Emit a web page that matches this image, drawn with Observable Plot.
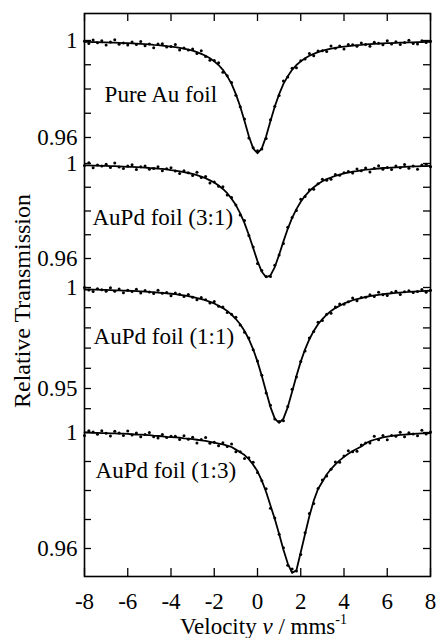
<!DOCTYPE html>
<html><head><meta charset="utf-8">
<script src="https://cdn.jsdelivr.net/npm/d3@7"></script>
<script src="https://cdn.jsdelivr.net/npm/@observablehq/plot@0.6"></script>
<style>html,body{margin:0;padding:0;background:#fff;} svg{display:block;} svg text{font-family:"Liberation Serif","DejaVu Serif",serif !important;}</style>
</head><body><div id="chart"></div>
<script>
// ---------- DATA ----------
const velocity = [-8,-7.8,-7.6,-7.4,-7.2,-7,-6.8,-6.6,-6.4,-6.2,-6,-5.8,-5.6,-5.4,-5.2,-5,-4.8,-4.6,-4.4,-4.2,-4,-3.8,-3.6,-3.4,-3.2,-3,-2.8,-2.6,-2.4,-2.2,-2,-1.8,-1.6,-1.4,-1.2,-1,-0.8,-0.6,-0.4,-0.2,0,0.2,0.4,0.6,0.8,1,1.2,1.4,1.6,1.8,2,2.2,2.4,2.6,2.8,3,3.2,3.4,3.6,3.8,4,4.2,4.4,4.6,4.8,5,5.2,5.4,5.6,5.8,6,6.2,6.4,6.6,6.8,7,7.2,7.4,7.6,7.8,8];

const sampleNames = ["Pure Au foil", "AuPd foil (3:1)", "AuPd foil (1:1)", "AuPd foil (1:3)"];

// measured transmission (dots)
const pointsAu = [0.9998,0.9988,1.0002,0.9991,0.9999,0.9981,0.9994,1.0003,0.9985,0.9990,
0.9981,0.9994,0.9984,0.9996,0.9978,0.9986,0.9970,0.9986,0.9987,0.9973,
0.9975,0.9984,0.9961,0.9969,0.9961,0.9965,0.9946,0.9958,0.9934,0.9919,
0.9918,0.9908,0.9869,0.9855,0.9827,0.9774,0.9727,0.9676,0.9598,0.9558,
0.9545,0.9553,0.9596,0.9673,0.9729,0.9773,0.9833,0.9849,0.9886,0.9888,
0.9916,0.9924,0.9946,0.9937,0.9957,0.9958,0.9955,0.9977,0.9968,0.9977,
0.9965,0.9983,0.9982,0.9976,0.9990,0.9983,0.9976,0.9993,0.9989,0.9982,
0.9999,0.9986,0.9995,0.9983,0.9992,1.0001,0.9988,0.9986,0.9999,0.9992,0.9997];
const points31 = [0.9992,1.0003,0.9982,0.9994,0.9989,0.9997,0.9983,1.0002,0.9985,0.9979,
0.9990,0.9995,0.9975,0.9986,0.9989,0.9976,0.9979,0.9986,0.9970,0.9978,
0.9982,0.9968,0.9958,0.9969,0.9961,0.9950,0.9963,0.9941,0.9945,0.9918,
0.9922,0.9904,0.9902,0.9867,0.9857,0.9825,0.9783,0.9760,0.9697,0.9648,
0.9579,0.9550,0.9524,0.9524,0.9572,0.9615,0.9663,0.9732,0.9773,0.9802,
0.9849,0.9861,0.9889,0.9892,0.9915,0.9934,0.9930,0.9934,0.9954,0.9951,
0.9961,0.9966,0.9960,0.9977,0.9969,0.9981,0.9964,0.9980,0.9991,0.9976,
0.9983,0.9975,0.9990,0.9982,0.9996,0.9980,0.9990,0.9976,0.9994,0.9997,0.9986];
const points11 = [1.0000,0.9988,0.9980,0.9994,0.9989,0.9982,0.9999,0.9982,0.9993,0.9974,
0.9986,0.9980,0.9991,0.9973,0.9985,0.9978,0.9970,0.9986,0.9971,0.9975,
0.9959,0.9973,0.9967,0.9956,0.9965,0.9952,0.9939,0.9950,0.9939,0.9923,
0.9931,0.9907,0.9903,0.9876,0.9867,0.9853,0.9814,0.9778,0.9750,0.9692,
0.9636,0.9566,0.9478,0.9417,0.9349,0.9337,0.9340,0.9411,0.9496,0.9557,
0.9634,0.9686,0.9750,0.9782,0.9828,0.9837,0.9868,0.9872,0.9903,0.9918,
0.9917,0.9929,0.9948,0.9934,0.9951,0.9952,0.9964,0.9955,0.9977,0.9964,
0.9961,0.9975,0.9982,0.9965,0.9979,0.9984,0.9975,0.9980,0.9990,0.9976,0.9987];
const points13 = [0.9990,1.0006,1.0002,0.9994,1.0006,0.9997,0.9988,1.0004,0.9998,0.9990,
1.0005,0.9991,0.9998,0.9985,0.9993,1.0000,0.9985,0.9981,0.9993,0.9983,
0.9987,0.9987,0.9976,0.9989,0.9977,0.9984,0.9964,0.9976,0.9983,0.9963,
0.9966,0.9954,0.9965,0.9952,0.9960,0.9934,0.9934,0.9910,0.9913,0.9897,
0.9862,0.9834,0.9806,0.9739,0.9705,0.9649,0.9603,0.9542,0.9529,0.9522,
0.9579,0.9654,0.9721,0.9755,0.9807,0.9836,0.9850,0.9873,0.9898,0.9897,
0.9919,0.9937,0.9934,0.9935,0.9957,0.9964,0.9964,0.9987,0.9975,0.9990,
0.9975,0.9990,0.9987,1.0001,0.9985,0.9999,0.9995,0.9989,1.0008,0.9995,1.0002];

// fitted curves (solid lines)
const fitAu = [0.9994,0.9994,0.9993,0.9993,0.9992,0.9992,0.9991,0.9991,0.9990,0.9989,
0.9989,0.9988,0.9987,0.9986,0.9985,0.9984,0.9982,0.9981,0.9979,0.9977,
0.9975,0.9973,0.9970,0.9966,0.9962,0.9958,0.9952,0.9945,0.9937,0.9927,
0.9914,0.9899,0.9879,0.9853,0.9821,0.9779,0.9728,0.9668,0.9605,0.9555,
0.9535,0.9555,0.9605,0.9668,0.9728,0.9779,0.9821,0.9853,0.9879,0.9899,
0.9914,0.9927,0.9937,0.9945,0.9952,0.9958,0.9962,0.9966,0.9970,0.9973,
0.9975,0.9977,0.9979,0.9981,0.9982,0.9984,0.9985,0.9986,0.9987,0.9988,
0.9989,0.9989,0.9990,0.9991,0.9991,0.9992,0.9992,0.9993,0.9993,0.9994,0.9994];
const fit31 = [0.9992,0.9992,0.9991,0.9991,0.9990,0.9990,0.9989,0.9989,0.9988,0.9987,
0.9986,0.9986,0.9985,0.9984,0.9983,0.9981,0.9980,0.9978,0.9977,0.9975,
0.9972,0.9970,0.9967,0.9964,0.9960,0.9956,0.9951,0.9945,0.9938,0.9929,
0.9920,0.9907,0.9893,0.9875,0.9852,0.9825,0.9790,0.9749,0.9699,0.9644,
0.9589,0.9544,0.9521,0.9529,0.9564,0.9616,0.9672,0.9725,0.9771,0.9808,
0.9839,0.9864,0.9884,0.9900,0.9914,0.9925,0.9934,0.9941,0.9948,0.9953,
0.9958,0.9962,0.9966,0.9968,0.9971,0.9974,0.9975,0.9977,0.9979,0.9981,
0.9982,0.9983,0.9984,0.9985,0.9986,0.9987,0.9988,0.9988,0.9989,0.9989,0.9990];
const fit11 = [0.9990,0.9990,0.9989,0.9989,0.9988,0.9988,0.9987,0.9986,0.9986,0.9985,
0.9984,0.9983,0.9982,0.9981,0.9980,0.9978,0.9977,0.9975,0.9973,0.9971,
0.9969,0.9967,0.9964,0.9961,0.9957,0.9953,0.9948,0.9943,0.9937,0.9929,
0.9921,0.9910,0.9898,0.9884,0.9866,0.9844,0.9818,0.9785,0.9744,0.9694,
0.9633,0.9562,0.9484,0.9408,0.9351,0.9330,0.9351,0.9408,0.9484,0.9562,
0.9633,0.9694,0.9744,0.9785,0.9818,0.9844,0.9866,0.9884,0.9898,0.9910,
0.9921,0.9929,0.9937,0.9943,0.9948,0.9953,0.9957,0.9961,0.9964,0.9967,
0.9969,0.9971,0.9973,0.9975,0.9977,0.9978,0.9980,0.9981,0.9982,0.9983,0.9984];
const fit13 = [1.0000,1.0000,0.9999,0.9999,0.9998,0.9998,0.9997,0.9997,0.9996,0.9996,
0.9995,0.9994,0.9993,0.9993,0.9992,0.9991,0.9989,0.9988,0.9987,0.9985,
0.9984,0.9983,0.9982,0.9980,0.9979,0.9977,0.9975,0.9973,0.9971,0.9968,
0.9965,0.9962,0.9959,0.9955,0.9950,0.9941,0.9932,0.9922,0.9908,0.9889,
0.9866,0.9834,0.9795,0.9748,0.9702,0.9650,0.9596,0.9548,0.9516,0.9525,
0.9587,0.9650,0.9712,0.9765,0.9805,0.9830,0.9855,0.9874,0.9890,0.9904,
0.9916,0.9927,0.9936,0.9944,0.9952,0.9963,0.9970,0.9975,0.9979,0.9983,
0.9986,0.9988,0.9990,0.9992,0.9993,0.9994,0.9995,0.9996,0.9997,0.9997,0.9998];

// tick values
const xTickValues = [-8,-6,-4,-2,0,2,4,6,8];
const yTicks = [[1,0.99,0.98,0.97,0.96],[1,0.99,0.98,0.97,0.96],[1,0.99,0.98,0.97,0.96,0.95,0.94],[1,0.99,0.98,0.97,0.96]];
const yTickLabelValues = [[1,0.96],[1,0.96],[1,0.95],[1,0.96]];

// ---------- LAYOUT ----------
const W = 438, H = 638, ML = 84, MR = 8, MT = 13, MB = 62;
const innerH = H - MT - MB;
const panelOneAt = [27, 150, 274, 419];      // vertical offset of T = 1 in each stacked panel
const panelGain = [2425, 2375, 2020, 2900];  // px per unit transmission
const labelAnchor = [[-7.07, 0.9775], [-7.63, 0.9774], [-7.58, 0.9759], [-7.49, 0.9867]];
const pxPerVel = (W - ML - MR) / 16;
const tickLen = 7;
const FONT = "'Liberation Serif', 'DejaVu Serif', serif";
const FS = 23;

const yOf = (k, t) => panelOneAt[k] + (1 - t) * panelGain[k];
const pointSets = [pointsAu, points31, points11, points13];
const fitSets = [fitAu, fit31, fit11, fit13];

const dots = [], fits = [], yTickRows = [], yLabelRows = [], panelLabels = [];
pointSets.forEach((arr, k) => arr.forEach((t, i) => dots.push({k, v: velocity[i], y: yOf(k, t)})));
fitSets.forEach((arr, k) => arr.forEach((t, i) => fits.push({k, v: velocity[i], y: yOf(k, t)})));
yTicks.forEach((arr, k) => arr.forEach(t => yTickRows.push({y: yOf(k, t)})));
yTickLabelValues.forEach((arr, k) => arr.forEach(t => yLabelRows.push({y: yOf(k, t), text: String(t)})));
sampleNames.forEach((name, k) => panelLabels.push({x: labelAnchor[k][0], y: yOf(k, labelAnchor[k][1]), text: name}));

const tl = tickLen / pxPerVel;
const fmtX = d => d < 0 ? "-" + Math.abs(d) : String(d);

const chart = Plot.plot({
  width: W, height: H,
  marginLeft: ML, marginRight: MR, marginTop: MT, marginBottom: MB,
  x: {domain: [-8, 8], axis: null},
  y: {domain: [innerH, 0], axis: null},
  style: {background: "white", color: "black", fontFamily: FONT, fontSize: FS + "px"},
  marks: [
    Plot.ruleY(yTickRows, {y: "y", x1: -8, x2: -8 + tl, stroke: "black", strokeWidth: 1.3}),
    Plot.ruleY(yTickRows, {y: "y", x1: 8 - tl, x2: 8, stroke: "black", strokeWidth: 1.3}),
    Plot.ruleX(xTickValues, {x: d => d, y1: 0, y2: 8, stroke: "black", strokeWidth: 1.3}),
    Plot.ruleX(xTickValues, {x: d => d, y1: innerH - 8, y2: innerH, stroke: "black", strokeWidth: 1.3}),
    Plot.line(fits, {x: "v", y: "y", z: "k", stroke: "black", strokeWidth: 1.8}),
    Plot.dot(dots, {x: "v", y: "y", r: 1.5, fill: "black", stroke: "none"}),
    Plot.frame({stroke: "black", strokeWidth: 1.6}),
    Plot.text(yLabelRows, {x: -8, y: "y", text: "text", textAnchor: "end", dx: -7, lineAnchor: "middle", fontSize: FS, fontFamily: FONT, fill: "black"}),
    Plot.text(xTickValues, {x: d => d, frameAnchor: "bottom", text: fmtX, lineAnchor: "top", dy: 16, fontSize: FS, fontFamily: FONT, fill: "black"}),
    Plot.text(panelLabels, {x: "x", y: "y", text: "text", textAnchor: "start", lineAnchor: "middle", fontSize: FS, fontFamily: FONT, fill: "black"})
  ]
});
document.getElementById("chart").appendChild(chart);

// axis titles
const svg = d3.select(chart);
svg.append("text")
  .attr("transform", "translate(30,301) rotate(-90)")
  .attr("text-anchor", "middle")
  .attr("font-family", FONT).attr("font-size", FS + 1).attr("fill", "black")
  .text("Relative Transmission");
const xt = svg.append("text")
  .attr("x", 180).attr("y", 634)
  .attr("text-anchor", "start")
  .attr("font-family", FONT).attr("font-size", FS).attr("fill", "black");
xt.append("tspan").text("Velocity ");
xt.append("tspan").attr("font-style", "italic").text("ν");
xt.append("tspan").text(" / mms");
xt.append("tspan").attr("dy", -10).attr("font-size", 14).text("-1");
</script>
</body></html>
